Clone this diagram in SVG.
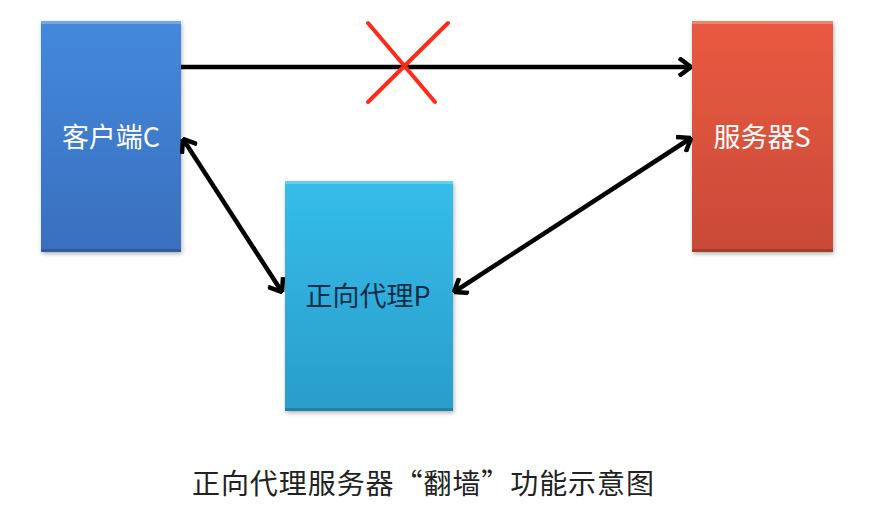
<svg xmlns="http://www.w3.org/2000/svg" width="872" height="518" viewBox="0 0 872 518">
<defs>
<style>
.lbl{font-family:"Noto Sans CJK SC","Noto Sans",sans-serif;font-size:27px;text-anchor:middle}
.w{fill:#ffffff}
.d{fill:#0f2d48}
.cap{font-family:"Noto Sans CJK SC","Noto Sans",sans-serif;font-size:28px;fill:#222222}
.conn{stroke:#000000;stroke-width:4.5;fill:none}
.x{stroke:#ff2a1a;stroke-width:4;stroke-linecap:round}
.bevelT{fill:#ffffff;opacity:0.25}
.bevelB{fill:#000000;opacity:0.18}
</style>
<linearGradient id="gBlue" x1="0" y1="0" x2="0" y2="1">
<stop offset="0" stop-color="#4489dc"/>
<stop offset="1" stop-color="#3a6fbf"/>
</linearGradient>
<linearGradient id="gRed" x1="0" y1="0" x2="0" y2="1">
<stop offset="0" stop-color="#ea5a42"/>
<stop offset="1" stop-color="#c94a38"/>
</linearGradient>
<linearGradient id="gCyan" x1="0" y1="0" x2="0" y2="1">
<stop offset="0" stop-color="#35bdea"/>
<stop offset="1" stop-color="#2a9dcb"/>
</linearGradient>
<filter id="sh" x="-10%" y="-10%" width="130%" height="130%">
<feDropShadow dx="1" dy="2" stdDeviation="2" flood-color="#000000" flood-opacity="0.3"/>
</filter>
<marker id="ah" viewBox="0 0 14 20" refX="13" refY="10" markerWidth="14" markerHeight="20" markerUnits="userSpaceOnUse" orient="auto-start-reverse">
<path d="M1,1 L13,10 L1,19" fill="none" stroke="#000000" stroke-width="4.5" stroke-linejoin="miter"/>
</marker>
</defs>
<g id="client">
<rect x="41" y="21" width="140" height="231" fill="url(#gBlue)" filter="url(#sh)"/>
<rect class="bevelT" x="41" y="21" width="140" height="3"/>
<rect class="bevelB" x="41" y="249" width="140" height="3"/>
<text class="lbl w" x="111" y="147">客户端C</text>
</g>
<g id="server">
<rect x="692" y="21" width="141" height="231" fill="url(#gRed)" filter="url(#sh)"/>
<rect class="bevelT" x="692" y="21" width="141" height="3"/>
<rect class="bevelB" x="692" y="249" width="141" height="3"/>
<text class="lbl w" x="762" y="147">服务器S</text>
</g>
<g id="proxy">
<rect x="285" y="181" width="168" height="230" fill="url(#gCyan)" filter="url(#sh)"/>
<rect class="bevelT" x="285" y="181" width="168" height="3"/>
<rect class="bevelB" x="285" y="408" width="168" height="3"/>
<text class="lbl d" x="368" y="306">正向代理P</text>
</g>
<g id="connectors">
<line class="conn" x1="181" y1="67" x2="691" y2="67" marker-end="url(#ah)"/>
<line class="conn" x1="183" y1="139" x2="282" y2="292" marker-start="url(#ah)" marker-end="url(#ah)"/>
<line class="conn" x1="454" y1="292" x2="691" y2="138" marker-start="url(#ah)" marker-end="url(#ah)"/>
</g>
<g id="cross">
<line class="x" x1="368" y1="23" x2="435" y2="102"/>
<line class="x" x1="448" y1="23" x2="368" y2="102"/>
</g>
<text class="cap" x="192" y="494" textLength="462" lengthAdjust="spacing">正向代理服务器“翻墙”功能示意图</text>
</svg>
